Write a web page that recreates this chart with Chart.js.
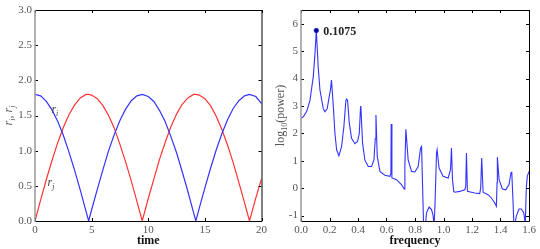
<!DOCTYPE html>
<html>
<head>
<meta charset="UTF-8">
<script src="https://cdn.jsdelivr.net/npm/chart.js@4.4.1/dist/chart.umd.min.js"></script>
<style>
  body { margin: 0; background: #fff; }
  canvas { position: absolute; top: 0; }
  #left { left: 0; }
  #right { left: 270px; }
</style>
</head>
<body>
<canvas id="left" width="270" height="249"></canvas>
<canvas id="right" width="270" height="249"></canvas>
<script>
// left panel: r_i, r_j vs time
const time = [0, 0.5, 1, 1.5, 2, 2.5, 3, 3.5, 4, 4.5, 4.74, 5, 5.5, 6, 6.5, 7, 7.5, 8, 8.5, 9, 9.47,
  10, 10.5, 11, 11.5, 12, 12.5, 13, 13.5, 14, 14.2, 14.5, 15, 15.5, 16, 16.5, 17, 17.5, 18, 18.5, 18.94, 19.5, 20];
const ri = [1.80, 1.78, 1.70, 1.58, 1.42, 1.22, 0.98, 0.72, 0.44, 0.14, 0, 0.16, 0.45, 0.73, 1.00, 1.23, 1.43, 1.59, 1.71, 1.78, 1.80,
  1.77, 1.70, 1.57, 1.41, 1.20, 0.97, 0.70, 0.42, 0.12, 0, 0.18, 0.47, 0.75, 1.01, 1.24, 1.44, 1.60, 1.71, 1.78, 1.80, 1.77, 1.67];
const rj = [0, 0.30, 0.59, 0.86, 1.11, 1.33, 1.51, 1.65, 1.75, 1.80, 1.80, 1.79, 1.74, 1.64, 1.50, 1.32, 1.09, 0.84, 0.57, 0.28, 0,
  0.32, 0.60, 0.88, 1.12, 1.34, 1.52, 1.66, 1.75, 1.80, 1.80, 1.79, 1.74, 1.64, 1.49, 1.30, 1.08, 0.83, 0.55, 0.26, 0, 0.33, 0.60];
const timeTicks = [0, 5, 10, 15, 20];
const rTicks = [0, 0.5, 1, 1.5, 2, 2.5, 3];

// right panel: log10(power) vs frequency
const freq = [0, 0.016, 0.040, 0.063, 0.086, 0.098, 0.1075, 0.121, 0.133, 0.156, 0.168, 0.184, 0.198, 0.207, 0.214,
  0.227, 0.238, 0.250, 0.266, 0.285, 0.301, 0.315, 0.320, 0.327, 0.339, 0.355, 0.378, 0.397, 0.409, 0.418, 0.420,
  0.432, 0.448, 0.472, 0.495, 0.512, 0.521, 0.526, 0.535, 0.554, 0.589, 0.624, 0.631, 0.633, 0.638, 0.670, 0.705,
  0.724, 0.729, 0.736, 0.752, 0.776, 0.799, 0.822, 0.839, 0.846, 0.860, 0.869, 0.881, 0.899, 0.916, 0.927, 0.934,
  0.941, 0.951, 0.955, 0.969, 0.997, 1.033, 1.049, 1.056, 1.063, 1.072, 1.079, 1.114, 1.149, 1.156, 1.161, 1.168,
  1.219, 1.254, 1.261, 1.268, 1.278, 1.313, 1.336, 1.360, 1.371, 1.376, 1.378, 1.390, 1.413, 1.437, 1.460, 1.474,
  1.479, 1.488, 1.495, 1.511, 1.530, 1.546, 1.563, 1.574, 1.581, 1.588, 1.600];
const logPower = [2.55, 2.6, 2.8, 3.2, 4.06, 4.9, 5.75, 4.4, 3.58, 2.9, 2.79, 2.9, 3.34, 3.6, 3.94,
  2.97, 2.0, 1.4, 1.18, 1.52, 2.25, 3.2, 3.25, 3.2, 2.37, 1.82, 1.62, 1.7, 2.0, 2.97, 3.0,
  1.64, 1.03, 0.79, 0.79, 1.03, 1.8, 2.67, 1.16, 0.61, 0.47, 0.43, 0.55, 2.34, 0.37, 0.31, 0.13,
  -0.03, 0.83, 2.15, 1.03, 0.61, 0.59, 0.79, 1.46, 1.52, -1.3, -1.6, -0.9, -0.69, -0.78, -1.0, -1.4,
  -0.5, 1.28, 1.4, 0.73, 0.43, 0.37, 0.67, 1.46, 0.31, -0.12, -0.15, -0.12, -0.06, 0.06, 1.28, -0.12,
  -0.18, -0.2, 0.0, 1.1, -0.15, -0.24, -0.36, -0.54, -0.66, 0.2, 1.13, 0.31, -0.03, -0.06, 0.13, 0.57,
  0.6, -0.5, -1.5, -1.02, -0.76, -0.76, -0.9, -1.3, 0.0, 0.43, 0.61];
const peakFreq = 0.1075;
const peakValue = 5.75;
const freqTicks = [0, 0.2, 0.4, 0.6, 0.8, 1.0, 1.2, 1.4, 1.6];
const powerTicks = [-1, 0, 1, 2, 3, 4, 5, 6];

const tickFont = { family: 'Liberation Serif', size: 11 };
const tickColor = '#555';

function pts(xs, ys) {
  return xs.map((x, i) => ({ x: x, y: ys[i] }));
}

// inward ticks on all four sides + frame
const frame = {
  id: 'frame',
  afterDraw(chart) {
    const ctx = chart.ctx, a = chart.chartArea;
    const sx = chart.scales.x, sy = chart.scales.y;
    ctx.save();
    ctx.strokeStyle = '#000';
    ctx.lineWidth = 1;
    sx.ticks.forEach(t => {
      const px = Math.round(sx.getPixelForValue(t.value)) + 0.5;
      ctx.beginPath();
      ctx.moveTo(px, a.bottom); ctx.lineTo(px, a.bottom - 3);
      ctx.moveTo(px, a.top); ctx.lineTo(px, a.top + 3);
      ctx.stroke();
    });
    sy.ticks.forEach(t => {
      const py = Math.round(sy.getPixelForValue(t.value)) + 0.5;
      ctx.beginPath();
      ctx.moveTo(a.left, py); ctx.lineTo(a.left + 3, py);
      ctx.moveTo(a.right, py); ctx.lineTo(a.right - 3, py);
      ctx.stroke();
    });
    ctx.beginPath();
    ctx.moveTo(a.left, a.top + 0.5); ctx.lineTo(a.right + 0.5, a.top + 0.5);
    ctx.lineTo(a.right + 0.5, a.bottom + 0.5); ctx.lineTo(a.left, a.bottom + 0.5);
    ctx.stroke();
    ctx.strokeStyle = '#999';
    ctx.lineWidth = 1.5;
    ctx.beginPath();
    ctx.moveTo(a.left, a.top); ctx.lineTo(a.left, a.bottom + 1);
    ctx.stroke();
    ctx.restore();
  }
};

// titles and text labels drawn on canvas (for subscripts)
function subText(ctx, parts, x, y, align) {
  // parts: [text, font, dy]
  let w = 0;
  parts.forEach(p => { ctx.font = p[1]; w += ctx.measureText(p[0]).width; });
  let cx = align === 'center' ? x - w / 2 : x;
  parts.forEach(p => {
    ctx.font = p[1];
    ctx.fillText(p[0], cx, y + (p[2] || 0));
    cx += ctx.measureText(p[0]).width;
  });
}

const leftText = {
  id: 'leftText',
  afterDraw(chart) {
    const ctx = chart.ctx, a = chart.chartArea;
    const sx = chart.scales.x, sy = chart.scales.y;
    ctx.save();
    ctx.textBaseline = 'alphabetic';
    ctx.fillStyle = '#111';
    ctx.font = 'bold 12px Liberation Serif';
    ctx.textAlign = 'center';
    ctx.fillText('time', (a.left + a.right) / 2, 244);
    ctx.textAlign = 'left';
    const it = 'italic 12px Liberation Serif', sb = 'italic 8px Liberation Serif', rm = '12px Liberation Serif';
    ctx.fillStyle = '#444';
    subText(ctx, [['r', it], ['i', sb, 3]], sx.getPixelForValue(1.45), sy.getPixelForValue(1.53), 'left');
    subText(ctx, [['r', it], ['j', sb, 3]], sx.getPixelForValue(1.1), sy.getPixelForValue(0.5), 'left');
    ctx.translate(12, (a.top + a.bottom) / 2);
    ctx.rotate(-Math.PI / 2);
    ctx.fillStyle = '#555';
    subText(ctx, [['r', it], ['i', sb, 3], [', ', rm], ['r', it], ['j', sb, 3]], 0, 0, 'center');
    ctx.restore();
  }
};

const rightText = {
  id: 'rightText',
  afterDraw(chart) {
    const ctx = chart.ctx, a = chart.chartArea;
    const sx = chart.scales.x, sy = chart.scales.y;
    ctx.save();
    ctx.fillStyle = '#111';
    ctx.font = 'bold 12px Liberation Serif';
    ctx.textAlign = 'center';
    ctx.fillText('frequency', (a.left + a.right) / 2, 244);
    ctx.textAlign = 'left';
    ctx.textBaseline = 'middle';
    ctx.fillStyle = '#222';
    ctx.font = 'bold 12px Liberation Serif';
    ctx.fillText(peakFreq.toString(), sx.getPixelForValue(peakFreq) + 7, sy.getPixelForValue(peakValue) + 1);
    ctx.textBaseline = 'alphabetic';
    ctx.translate(14, (a.top + a.bottom) / 2);
    ctx.rotate(-Math.PI / 2);
    ctx.fillStyle = '#555';
    const rm = '12px Liberation Serif', sb = '8px Liberation Serif';
    subText(ctx, [['log', rm], ['10', sb, 3], ['(power)', rm]], 0, 0, 'center');
    ctx.restore();
  }
};

function axes(xmin, xmax, xt, ymin, ymax, yt, yw, fmtx, fmty) {
  return {
    x: {
      type: 'linear', min: xmin, max: xmax,
      grid: { display: false, drawTicks: false, tickLength: 0 },
      border: { display: false },
      afterBuildTicks: s => { s.ticks = xt.map(v => ({ value: v })); },
      afterFit: s => { s.height = 28; },
      ticks: { font: tickFont, color: tickColor, padding: 3, maxRotation: 0, autoSkip: false, callback: fmtx }
    },
    y: {
      type: 'linear', min: ymin, max: ymax,
      grid: { display: false, drawTicks: false, tickLength: 0 },
      border: { display: false },
      afterBuildTicks: s => { s.ticks = yt.map(v => ({ value: v })); },
      afterFit: s => { s.width = yw; },
      ticks: { font: tickFont, color: tickColor, padding: 3, autoSkip: false, callback: fmty }
    }
  };
}

new Chart(document.getElementById('left'), {
  type: 'line',
  data: {
    datasets: [
      { data: pts(time, ri), borderColor: '#3333ff', borderWidth: 1.2, pointRadius: 0, tension: 0 },
      { data: pts(time, rj), borderColor: '#ff3333', borderWidth: 1.2, pointRadius: 0, tension: 0 }
    ]
  },
  options: {
    responsive: false, animation: false,
    layout: { padding: { top: 10, right: 7, left: 0, bottom: 0 } },
    plugins: { legend: { display: false }, tooltip: { enabled: false } },
    scales: axes(0, 20, timeTicks, 0, 3, rTicks, 35, v => v.toString(), v => v.toFixed(1))
  },
  plugins: [frame, leftText]
});

new Chart(document.getElementById('right'), {
  type: 'line',
  data: {
    datasets: [
      { data: [{ x: peakFreq, y: peakValue }], showLine: false, pointRadius: 2.3, pointBorderWidth: 0.5, pointBackgroundColor: '#0000aa', pointBorderColor: '#0000aa' },
      { data: pts(freq, logPower), borderColor: '#3333ff', borderWidth: 1.1, pointRadius: 0, tension: 0 }
    ]
  },
  options: {
    responsive: false, animation: false,
    layout: { padding: { top: 10, right: 11, left: 0, bottom: 0 } },
    plugins: { legend: { display: false }, tooltip: { enabled: false } },
    scales: axes(0, 1.6, freqTicks, -1.2, 6.5, powerTicks, 31, v => v.toFixed(1), v => v.toString())
  },
  plugins: [frame, rightText]
});
</script>
</body>
</html>
